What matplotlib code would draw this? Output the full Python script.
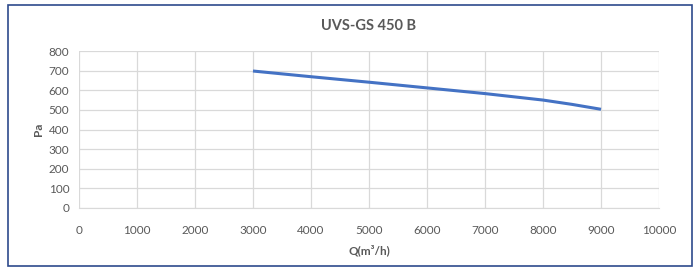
import matplotlib
matplotlib.use("Agg")
import matplotlib.pyplot as plt
from matplotlib.patches import Rectangle

q = [3000, 4000, 5000, 6000, 7000, 8000, 8500, 9000]
pa = [698, 669, 641, 612, 583, 550, 528, 503]
xticks = [0, 1000, 2000, 3000, 4000, 5000, 6000, 7000, 8000, 9000, 10000]
yticks = [0, 100, 200, 300, 400, 500, 600, 700, 800]

plt.rcParams['font.family'] = ['Lato', 'DejaVu Sans']

fig = plt.figure(figsize=(6.98, 2.69), dpi=100)
fig.patch.set_facecolor('white')
fig.patches.append(Rectangle((8/698, 3/269), 684/698, 261/269, transform=fig.transFigure,
                             fill=False, edgecolor='#2E4A8C', linewidth=1.2, zorder=0))
ax = fig.add_axes([79/698, 61/269, 580/698, 157/269])
ax.plot(q, pa, color='#4472C4', linewidth=2.2, solid_capstyle='butt')
ax.set_xlim(0, 10000)
ax.set_ylim(0, 800)
ax.set_xticks(xticks)
ax.set_yticks(yticks)
ax.grid(True, color='#D9D9D9', linewidth=0.9)
ax.set_axisbelow(True)
for s in ['top', 'right', 'left']:
    ax.spines[s].set_visible(False)
ax.spines['bottom'].set_color('#D9D9D9')
ax.tick_params(length=0, labelsize=8.5, labelcolor='#595959')
ax.tick_params(axis='x', pad=12)
ax.tick_params(axis='y', pad=7)
ax.set_xlabel('Q(m³/h)', fontsize=8.5, color='#595959', fontweight='bold', labelpad=6)
ax.set_ylabel('Pa', fontsize=8.5, color='#595959', fontweight='bold', labelpad=3)
fig.text(369/698, 1 - 26/269, 'UVS-GS 450 B', ha='center', va='center', fontsize=10.5,
         fontweight='bold', color='#595959')
fig.savefig('out.png', dpi=100)
